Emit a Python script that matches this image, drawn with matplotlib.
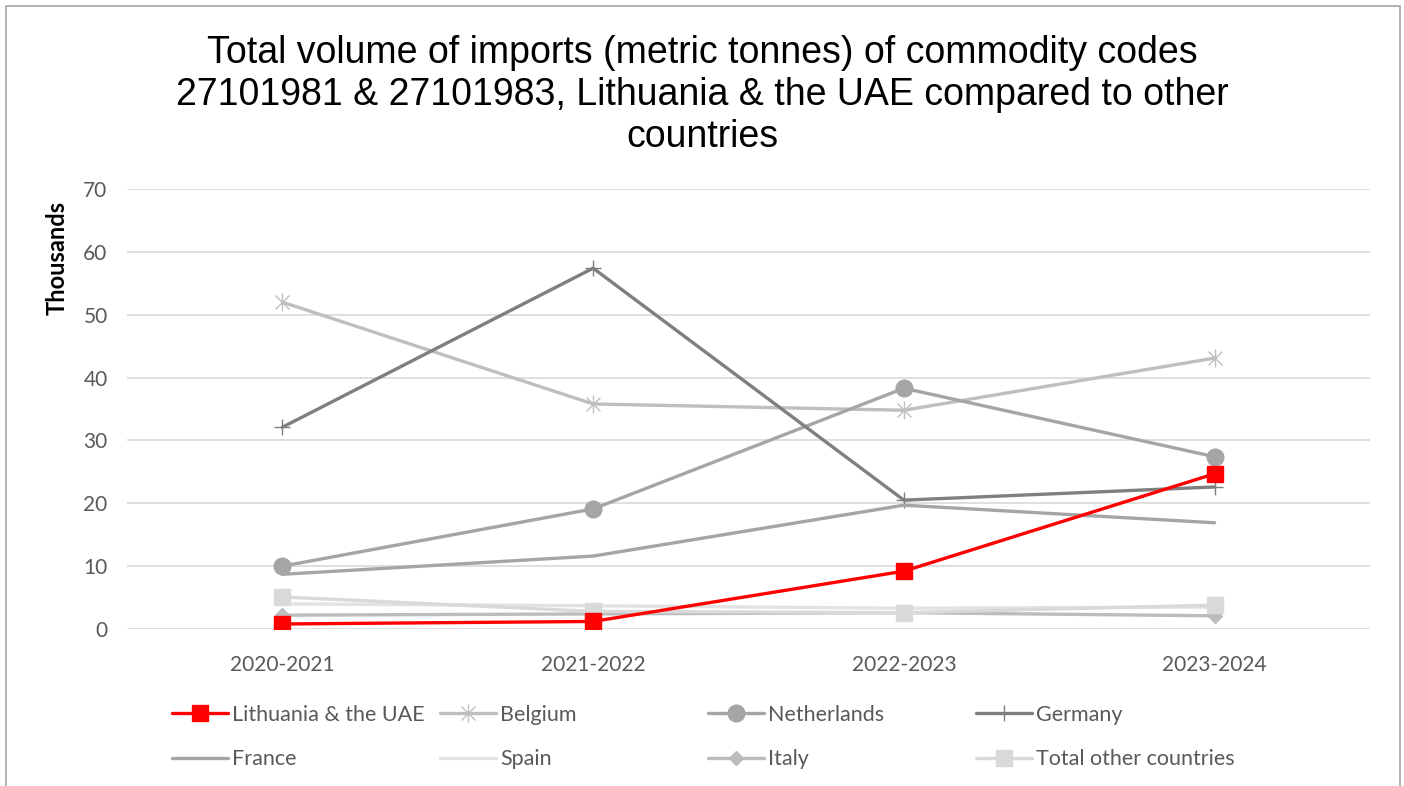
import numpy as np
import matplotlib.pyplot as plt
from matplotlib.path import Path
from matplotlib.patches import Rectangle

# Data (thousands of metric tonnes)
periods = ["2020-2021", "2021-2022", "2022-2023", "2023-2024"]
lithuania_uae = [0.8, 1.2, 9.2, 24.7]
belgium = [52.0, 35.8, 34.8, 43.1]
netherlands = [10.0, 19.1, 38.3, 27.4]
germany = [32.1, 57.4, 20.5, 22.6]
france = [8.7, 11.6, 19.7, 16.9]
spain = [4.0, 3.7, 3.3, 3.5]
italy = [2.2, 2.4, 2.6, 2.1]
total_other = [5.1, 2.8, 2.6, 3.8]

# Excel-like star marker: an "x" with a vertical stroke
star = Path([(-1, -1), (1, 1), (-1, 1), (1, -1), (0, -1.3), (0, 1.3)],
            [Path.MOVETO, Path.LINETO, Path.MOVETO, Path.LINETO, Path.MOVETO, Path.LINETO])

series = [
    ("Lithuania & the UAE", lithuania_uae, dict(color="#ff0000", marker="s", ms=12, lw=2.4, zorder=10)),
    ("Belgium", belgium, dict(color="#bfbfbf", marker=star, ms=13, mew=1.0, lw=2.4)),
    ("Netherlands", netherlands, dict(color="#a5a5a5", marker="o", ms=12, lw=2.4)),
    ("Germany", germany, dict(color="#7f7f7f", marker="+", ms=12, mew=1.0, lw=2.4)),
    ("France", france, dict(color="#a5a5a5", marker=None, lw=2.4)),
    ("Spain", spain, dict(color="#e2e2e2", marker=None, lw=2.4)),
    ("Italy", italy, dict(color="#bcbcbc", marker="D", ms=7.5, lw=2.4)),
    ("Total other countries", total_other, dict(color="#d9d9d9", marker="s", ms=12, lw=2.4)),
]

plt.rcParams['font.family'] = ['Lato', 'DejaVu Sans']

fig = plt.figure(figsize=(14.04, 7.86), dpi=100)
ax = fig.add_axes([127 / 1404, 1 - 629 / 786, (1370 - 127) / 1404, (629 - 189) / 786])

x = np.arange(len(periods))
lines = []
for name, vals, st in series:
    ln, = ax.plot(x, vals, label=name, solid_capstyle="round", **st)
    lines.append(ln)

ax.set_xlim(-0.5, len(periods) - 0.5)
ax.set_ylim(0, 70)
ax.set_yticks(range(0, 71, 10))
ax.set_xticks(x)
ax.set_xticklabels(periods)
ax.tick_params(axis="both", length=0, labelsize=15, colors="#595959")
ax.tick_params(axis="x", pad=19)
ax.tick_params(axis="y", pad=14)
ax.grid(axis="y", color="#d9d9d9", lw=1.2)
ax.set_axisbelow(True)
for s in ax.spines.values():
    s.set_visible(False)

fig.text(57 / 1404, 1 - 258 / 786, "Thousands", rotation=90, fontsize=17,
         fontweight="bold", ha="center", va="center")

fig.text(702 / 1404, 1 - 95 / 786,
         "Total volume of imports (metric tonnes) of commodity codes\n"
         "27101981 & 27101983, Lithuania & the UAE compared to other\ncountries",
         ha="center", va="center", fontsize=27, family="Liberation Sans",
         linespacing=1.2)

# legend: 4 equal-width columns, filled row by row like Excel
col_x = [172, 440, 708, 976]
for c in range(4):
    items = [lines[c], lines[c + 4]]
    fig.legend(items, [l.get_label() for l in items], loc="center left",
               bbox_to_anchor=(col_x[c] / 1404, 1 - 737 / 786),
               frameon=False, fontsize=15.5, labelcolor="#595959",
               handlelength=2.6, handletextpad=0.2, labelspacing=1.15,
               borderpad=0, borderaxespad=0)

# chart border
fig.patches.append(Rectangle((6 / 1404, -0.01), (1400 - 6) / 1404, 1 - 6 / 786 + 0.01,
                             transform=fig.transFigure, fill=False, ec="#a6a6a6", lw=1.2))

plt.savefig("out.png", dpi=100)
plt.close()
